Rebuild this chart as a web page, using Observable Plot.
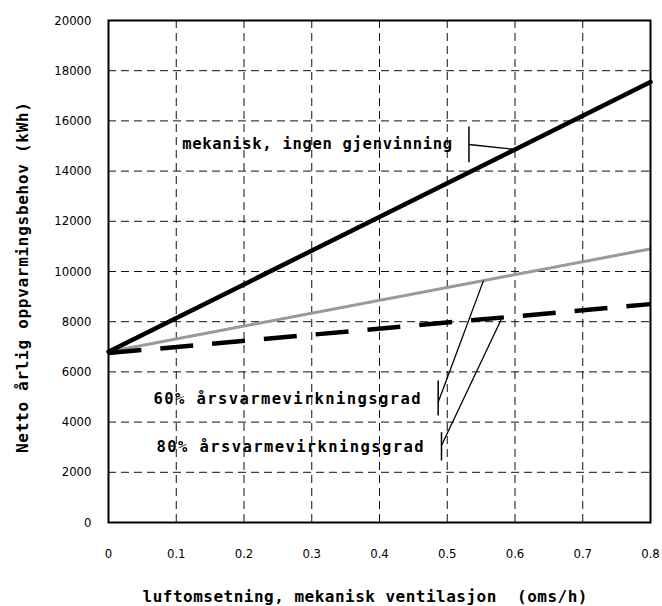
<!DOCTYPE html>
<html>
<head>
<meta charset="utf-8">
<script src="https://cdn.jsdelivr.net/npm/d3@7"></script>
<script src="https://cdn.jsdelivr.net/npm/@observablehq/plot@0.6"></script>
<style>
  html, body { margin: 0; padding: 0; background: #fff; }
</style>
</head>
<body>
<div id="chart"></div>
<script>
// ---- data ----
const airChange = [0, 0.8];                 // oms/h
const noRecovery = [6800, 17550];           // mekanisk, ingen gjenvinning
const recovery60 = [6800, 10900];           // 60% årsvarmevirkningsgrad
const recovery80 = [6750, 8700];            // 80% årsvarmevirkningsgrad

const xTicks = [0, 0.1, 0.2, 0.3, 0.4, 0.5, 0.6, 0.7, 0.8];
const yTicks = [0, 2000, 4000, 6000, 8000, 10000, 12000, 14000, 16000, 18000, 20000];

const xTitle = "luftomsetning, mekanisk ventilasjon  (oms/h)";
const yTitle = "Netto årlig oppvarmingsbehov (kWh)";

// annotations (data units)
const labels = ["mekanisk, ingen gjenvinning", "60% årsvarmevirkningsgrad", "80% årsvarmevirkningsgrad"];
const labelX = [0.308, 0.2636, 0.268];
const labelY = [15088, 4928, 3000];
const barX = [0.532, 0.4866, 0.4915];
const barY1 = [14355, 4263, 2470];
const barY2 = [15777, 5657, 3598];
const leaderY1 = [15060, 4793, 3068];
const leaderX2 = [0.6, 0.5535, 0.581];
const leaderY2 = [14860, 9637, 8166];

// ---- tables ----
const rows = (ys) => airChange.map((x, i) => ({x, y: ys[i]}));
const annot = labels.map((t, i) => ({
  t, lx: labelX[i], ly: labelY[i], bx: barX[i], by1: barY1[i], by2: barY2[i],
  ly1: leaderY1[i], lx2: leaderX2[i], ly2: leaderY2[i]
}));

const boldFont = "'DejaVu Sans Mono', monospace";

const chart = Plot.plot({
  width: 662,
  height: 606,
  marginLeft: 108,
  marginRight: 12,
  marginTop: 20,
  marginBottom: 84,
  x: {domain: [0, 0.8]},
  y: {domain: [0, 20000]},
  style: {
    fontFamily: "'DejaVu Sans Condensed', 'DejaVu Sans', sans-serif",
    fontSize: "13px",
    color: "#000",
    background: "#fff",
    overflow: "visible"
  },
  marks: [
    Plot.gridY(yTicks, {stroke: "#111", strokeOpacity: 1, strokeWidth: 1, strokeDasharray: "8,5"}),
    Plot.gridX(xTicks, {stroke: "#111", strokeOpacity: 1, strokeWidth: 1, strokeDasharray: "8,5"}),
    Plot.axisY(yTicks, {tickSize: 0, tickPadding: 17, tickFormat: d => String(d), label: null}),
    Plot.axisX(xTicks, {tickSize: 0, tickPadding: 26, tickFormat: d => String(+d.toFixed(1)), label: null}),
    Plot.line(rows(recovery60), {x: "x", y: "y", stroke: "#9a9a9a", strokeWidth: 3, strokeDasharray: "1,1"}),
    Plot.line(rows(recovery80), {x: "x", y: "y", stroke: "#000", strokeWidth: 4.5, strokeDasharray: "33,19", strokeLinecap: "butt"}),
    Plot.line(rows(noRecovery), {x: "x", y: "y", stroke: "#000", strokeWidth: 4.5}),
    Plot.frame({stroke: "#000", strokeWidth: 2}),
    // annotation bars and leaders
    Plot.link(annot, {x1: "bx", x2: "bx", y1: "by1", y2: "by2", stroke: "#000", strokeWidth: 1.5}),
    Plot.link(annot, {x1: "bx", y1: "ly1", x2: "lx2", y2: "ly2", stroke: "#000", strokeWidth: 1.3}),
    Plot.text(annot, {x: "lx", y: "ly", text: "t", fontFamily: boldFont, fontWeight: "bold", fontSize: 15.5,
      textAnchor: "middle", lineAnchor: "middle", fill: "#000"}),
    // axis titles
    Plot.text([xTitle], {frameAnchor: "bottom", dx: -14.5, dy: 74.4, text: d => d, fontFamily: boldFont,
      fontWeight: "bold", fontSize: 16, textAnchor: "middle", lineAnchor: "middle", fill: "#000"}),
    Plot.text([yTitle], {frameAnchor: "left", dx: -86, dy: 6, rotate: -90, text: d => d, fontFamily: boldFont,
      fontWeight: "bold", fontSize: 16, textAnchor: "middle", lineAnchor: "middle", fill: "#000"})
  ]
});

// fit label widths to reference
const widths = new Map([[labels[0], 270], [labels[1], 267], [labels[2], 267], [xTitle, 445], [yTitle, 351]]);
chart.querySelectorAll("text").forEach(t => {
  const w = widths.get(t.textContent);
  if (w) { t.setAttribute("textLength", w); t.setAttribute("lengthAdjust", "spacing"); }
});

document.getElementById("chart").appendChild(chart);
</script>
</body>
</html>
